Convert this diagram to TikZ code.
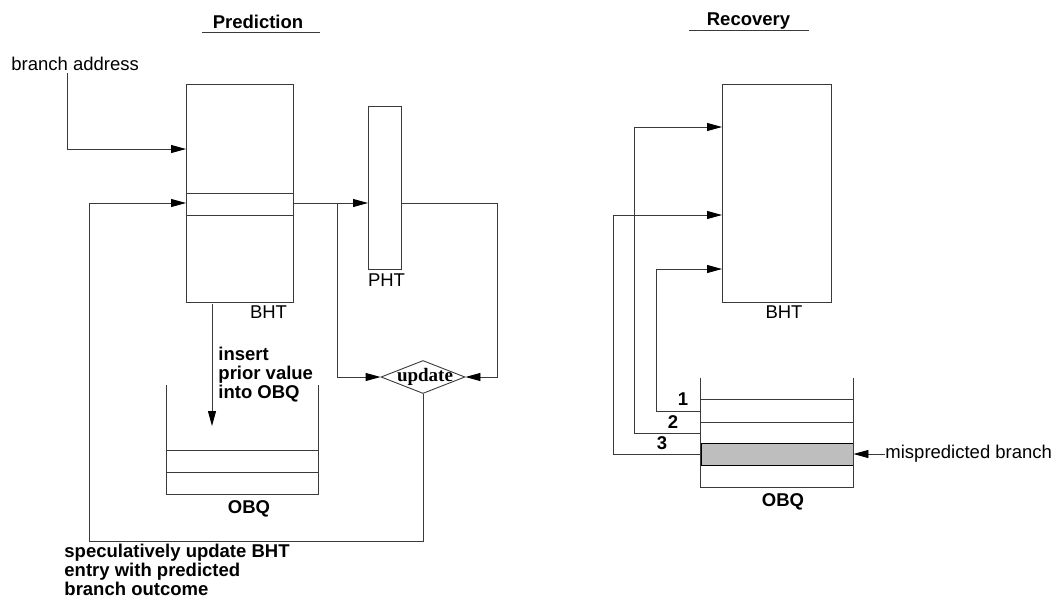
\documentclass[tikz,border=0pt]{standalone}
\usepackage{fontspec}
\setmainfont{Liberation Sans}
\newfontfamily\timesf{Liberation Serif}
\usetikzlibrary{arrows.meta,shapes.geometric}
\definecolor{shadegray}{HTML}{BEBEBE}
\definecolor{linegray}{HTML}{3A3A3A}
\begin{document}
\begin{tikzpicture}[x=1pt,y=-1pt,line width=0.9pt,
  txt/.style={font=\fontsize{18.5}{19}\selectfont,inner sep=0,text=black},
  btxt/.style={font=\fontsize{18.5}{19}\selectfont\bfseries,inner sep=0,text=black},
  tbl/.style={draw=linegray,inner sep=0,minimum width=#1},
  area/.style={inner sep=0,draw=none},
  arr/.style={-{Triangle[length=15pt,width=8pt,black]},draw=linegray},
  ln/.style={draw=linegray}]
\useasboundingbox (0,0) rectangle (1057,598);

% ---------------- Prediction ----------------
\node[btxt] (tpred) at (258,21.5) {Prediction};
\coordinate (upl) at (202,32);
\coordinate (upr) at (320,32);
\draw[ln] (upl) -- (upr);

\node[txt,anchor=west] (ba) at (11,64) {branch address};
\node[tbl=107,minimum height=218] (bht) at (239.5,193) {};
\coordinate (bhtr1l) at (186,193); \coordinate (bhtr1r) at (293,193);
\coordinate (bhtr2l) at (186,215); \coordinate (bhtr2r) at (293,215);
\draw[ln] (bhtr1l) -- (bhtr1r) (bhtr2l) -- (bhtr2r);
\node[txt] (bhtlbl) at (268.5,312) {BHT};

\node[tbl=33,minimum height=163] (pht) at (384.5,187.5) {};
\node[txt] (phtlbl) at (386.5,280) {PHT};

\node[diamond,draw=linegray,inner sep=0,minimum width=84,minimum height=33] (upd) at (423,377) {};
\node[font=\fontsize{19}{19}\selectfont\timesf\bfseries,inner sep=0] (updtxt) at (425,377) {update};

\node[area,minimum width=151,minimum height=109] (obq) at (242.5,439.5) {};
\draw[ln] (obq.north west) |- (obq.south east) -- (obq.north east);
\coordinate (oq1l) at (167,450); \coordinate (oq1r) at (318,450);
\coordinate (oq2l) at (167,472); \coordinate (oq2r) at (318,472);
\draw[ln] (oq1l) -- (oq1r) (oq2l) -- (oq2r);
\node[btxt] (obqlbl) at (249,509) {OBQ};

\node[btxt,anchor=west,align=left] (instxt) at (218,375) {insert\\prior value\\into OBQ};
\node[btxt,anchor=west,align=left] (spectxt) at (64,569.5) {speculatively update BHT\\entry with predicted\\branch outcome};

% connectors (prediction)
\coordinate (bastart) at (67,73);
\coordinate (bain) at (186,149);
\draw[arr] (bastart) |- (bain);

\coordinate (rowout) at (293,203);
\coordinate (phtin) at (368,203);
\draw[arr] (rowout) -- (phtin);
\coordinate (split) at (337,203);
\draw[arr] (split) |- (upd.west);

\coordinate (phtout) at (401,203);
\coordinate (rturn) at (497,203);
\draw[arr] (phtout) -- (rturn) |- (upd.east);

\coordinate (fbb) at (423,541);
\coordinate (fbl) at (89,541);
\coordinate (fbin) at (186,203);
\draw[arr] (upd.south) -- (fbb) -- (fbl) |- (fbin);

\coordinate (insfrom) at (212,304);
\coordinate (insto) at (212,426);
\draw[arr] (insfrom) -- (insto);

% ---------------- Recovery ----------------
\node[btxt] (trec) at (748.5,21) {Recovery};
\coordinate (url) at (689,30);
\coordinate (urr) at (809,30);
\draw[ln] (url) -- (urr);

\node[tbl=109,minimum height=218] (bht2) at (776.5,193) {};
\node[txt] (bht2lbl) at (784,312) {BHT};

\node[area,minimum width=152,minimum height=109] (obq2) at (777,432.5) {};
\node[draw=black,fill=shadegray,inner sep=0,minimum width=152,minimum height=22] (misrow) at (777,454) {};
\draw[ln] (obq2.north west) |- (obq2.south east) -- (obq2.north east);
\coordinate (r1l) at (701,399); \coordinate (r1r) at (853,399);
\coordinate (r2l) at (701,422); \coordinate (r2r) at (853,422);
\draw[ln] (r1l) -- (r1r) (r2l) -- (r2r);
\node[btxt] (obq2lbl) at (783,502) {OBQ};

\coordinate (e1) at (701,411); \coordinate (e1x) at (656,411); \coordinate (b1) at (722,269);
\coordinate (e2) at (701,433); \coordinate (e2x) at (634,433); \coordinate (b2) at (722,127);
\coordinate (e3) at (701,454); \coordinate (e3x) at (613,454); \coordinate (b3) at (722,215);
\draw[arr] (e1) -- (e1x) |- (b1);
\draw[arr] (e2) -- (e2x) |- (b2);
\draw[arr] (e3) -- (e3x) |- (b3);
\node[btxt] (n1) at (683,399) {1};
\node[btxt] (n2) at (673,422) {2};
\node[btxt] (n3) at (662,443) {3};

\node[txt,anchor=west] (mistxt) at (885,454) {mispredicted branch};
\draw[arr] (mistxt.west) -- (misrow.east);
\end{tikzpicture}
\end{document}
